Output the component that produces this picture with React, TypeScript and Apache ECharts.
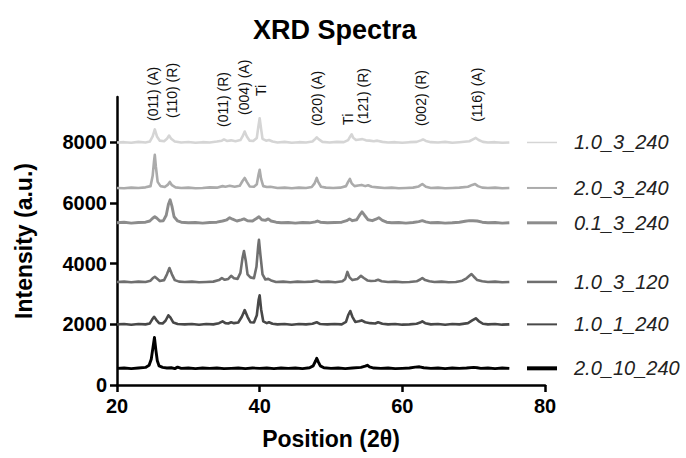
import React, { useEffect, useRef } from "react";
import * as echarts from "echarts";

const seriesNames = ["1.0_3_240", "2.0_3_240", "0.1_3_240", "1.0_3_120", "1.0_1_240", "2.0_10_240"];
const offsets = [8000, 6500, 5350, 3400, 2000, 550];
const colors = ["#d5d5d5", "#ababab", "#8c8c8c", "#6f6f6f", "#484848", "#000000"];
const lineWidths = [2.6, 2.6, 2.9, 2.6, 2.6, 2.9];
const legendWidths = [1.5, 2, 3, 2.5, 2, 4];

const xTicks = [20, 40, 60, 80];
const yTicks = [0, 2000, 4000, 6000, 8000];

// relative intensities above each trace's offset, [2θ, counts]
const traceA: number[][] = [[20,0],[21,10],[22,-10],[23,20],[24,0],[24.6,30],[25.0,200],[25.3,430],[25.6,200],[26.0,60],[26.6,40],[27.0,120],[27.3,230],[27.6,120],[28.1,30],[29,0],[30,15],[31,-10],[32,10],[33,0],[34,30],[34.7,60],[35.0,100],[35.4,50],[36.0,70],[36.6,40],[37.3,80],[37.6,200],[37.9,360],[38.2,200],[38.6,60],[39.1,50],[39.6,150],[39.8,500],[40.0,800],[40.2,450],[40.4,120],[40.9,60],[41.3,80],[41.8,30],[42.5,0],[43.5,20],[44.5,-10],[45.5,10],[46.5,0],[47.4,30],[47.8,120],[48.0,170],[48.3,100],[48.8,20],[49.8,0],[50.8,20],[51.8,10],[52.4,80],[52.7,200],[52.9,270],[53.1,160],[53.5,80],[54.0,100],[54.4,110],[54.9,70],[55.4,60],[56.0,40],[56.5,60],[57.2,20],[58,0],[59,10],[60,-10],[61,10],[62,20],[62.6,70],[62.9,100],[63.3,50],[64,10],[65,0],[66,20],[67,-10],[68,10],[69.4,40],[69.9,100],[70.3,150],[70.7,80],[71.3,20],[72,0],[73,10],[74,-10],[75,0]];
const traceB: number[][] = [[20,0],[21,-10],[22,10],[23,0],[24,20],[24.7,60],[25.0,400],[25.2,900],[25.3,1090],[25.45,700],[25.7,200],[26.1,60],[26.7,30],[27.1,100],[27.4,200],[27.7,90],[28.2,20],[29,0],[30,10],[31,-10],[32,0],[33,20],[34,10],[34.8,60],[35.2,40],[35.8,70],[36.5,40],[37.2,70],[37.6,230],[37.9,330],[38.2,200],[38.6,50],[39.2,40],[39.6,120],[39.85,450],[40.0,600],[40.2,300],[40.5,60],[41.0,30],[41.5,40],[42.5,0],[43.5,10],[44.5,-10],[45.5,10],[46.5,0],[47.3,30],[47.7,150],[48.0,330],[48.2,200],[48.6,40],[49.3,10],[50.3,0],[51.3,10],[52.1,60],[52.4,200],[52.65,300],[52.9,150],[53.3,60],[53.8,80],[54.3,100],[54.8,60],[55.2,90],[55.7,40],[56.5,20],[57.5,0],[58.5,10],[59.5,-10],[60.5,0],[61.5,10],[62.3,50],[62.8,130],[63.3,40],[64,0],[65,10],[66,-10],[67,0],[68,10],[69.2,40],[69.8,100],[70.2,130],[70.6,60],[71.2,10],[72,0],[73,10],[74,-10],[75,0]];
const traceC: number[][] = [[20,0],[21,20],[22,-10],[23,10],[24,20],[24.6,60],[25.0,150],[25.3,200],[25.6,150],[26.0,60],[26.5,70],[26.9,250],[27.2,600],[27.45,760],[27.7,550],[28.0,200],[28.5,60],[29,20],[30,0],[31,10],[32,-10],[33,10],[34,20],[34.8,60],[35.4,100],[35.8,170],[36.2,120],[36.8,60],[37.4,100],[37.8,130],[38.3,70],[39.0,60],[39.6,150],[39.9,200],[40.3,100],[40.8,80],[41.2,130],[41.6,60],[42.3,20],[43,0],[44,10],[45,-10],[46,10],[47,0],[47.8,30],[48.1,60],[48.5,20],[49.5,0],[50.5,10],[51.5,20],[52.2,70],[52.6,130],[53.0,70],[53.6,100],[54.0,250],[54.35,360],[54.7,250],[55.2,100],[55.8,70],[56.3,120],[56.7,170],[57.2,80],[57.8,20],[58.5,0],[59.5,10],[60.5,-10],[61.5,10],[62.3,40],[62.8,70],[63.3,30],[64,0],[65,10],[66,-10],[67,0],[68,20],[68.8,50],[69.4,70],[69.9,70],[70.5,60],[71.2,20],[72,0],[73,10],[74,-10],[75,0]];
const traceD: number[][] = [[20,0],[21,10],[22,-10],[23,10],[24,0],[24.7,40],[25.0,120],[25.3,170],[25.6,110],[26.0,30],[26.6,60],[27.0,250],[27.35,460],[27.7,250],[28.1,60],[28.7,10],[29.5,0],[30.5,10],[31.5,-10],[32.5,0],[33.5,10],[34.3,60],[34.7,130],[35.1,70],[35.6,100],[36.0,200],[36.4,120],[36.9,100],[37.3,300],[37.6,800],[37.8,1020],[38.05,700],[38.3,250],[38.7,150],[39.2,120],[39.55,500],[39.8,1200],[39.9,1390],[40.1,900],[40.4,250],[40.8,80],[41.2,100],[41.6,50],[42.3,0],[43.3,10],[44.3,-10],[45.3,10],[46.3,0],[47.3,10],[48.0,40],[48.6,0],[49.6,10],[50.6,-10],[51.6,20],[52.0,100],[52.3,330],[52.6,150],[53.0,60],[53.7,100],[54.2,200],[54.6,130],[55.1,50],[55.6,30],[56.2,40],[56.6,70],[57.1,20],[58,0],[59,10],[60,-10],[61,0],[62,20],[62.5,80],[62.8,130],[63.2,60],[63.8,20],[64.5,0],[65.5,10],[66.5,-10],[67.5,0],[68.4,40],[69.0,120],[69.4,200],[69.7,260],[70.0,180],[70.5,60],[71.2,20],[72,0],[73,10],[74,-10],[75,0]];
const traceE: number[][] = [[20,0],[21,10],[22,-10],[23,10],[24,0],[24.6,30],[24.9,150],[25.2,250],[25.5,150],[25.9,40],[26.4,30],[26.8,120],[27.2,300],[27.5,220],[27.9,60],[28.5,10],[29.5,0],[30.5,10],[31.5,-10],[32.5,10],[33.5,0],[34.3,40],[34.8,100],[35.2,40],[35.6,30],[36.0,70],[36.4,40],[37.0,60],[37.5,250],[37.9,470],[38.3,250],[38.7,70],[39.2,60],[39.6,300],[39.85,800],[40.0,960],[40.2,500],[40.5,100],[41.0,40],[41.3,70],[41.8,20],[42.5,0],[43.5,10],[44.5,-10],[45.5,10],[46.5,0],[47.4,20],[48.0,70],[48.5,10],[49.5,0],[50.5,10],[51.5,0],[52.1,80],[52.4,300],[52.7,440],[53.0,250],[53.4,80],[53.9,100],[54.3,130],[54.8,70],[55.5,40],[56.2,30],[56.6,70],[57.2,20],[58,0],[59,10],[60,-10],[61,0],[62,20],[62.5,60],[62.8,100],[63.2,40],[64,0],[65,10],[66,-10],[67,10],[68,0],[69.2,40],[69.8,130],[70.3,200],[70.7,110],[71.3,20],[72,0],[73,10],[74,-10],[75,0]];
const traceF: number[][] = [[20,0],[21,10],[22,-10],[23,10],[24.0,30],[24.5,100],[24.8,300],[25.05,700],[25.25,1020],[25.45,600],[25.65,250],[25.9,80],[26.4,30],[27.0,10],[27.6,20],[28.1,-10],[28.5,40],[29,0],[30,10],[31,-10],[32,10],[33,0],[34,10],[35,-10],[36,0],[37,10],[38,-10],[39,10],[40,0],[41,10],[42,-10],[43,10],[44,0],[45,10],[46,-10],[47.0,20],[47.5,80],[47.85,250],[48.0,330],[48.2,220],[48.5,80],[49.0,20],[50,0],[51,10],[52,-10],[53,10],[54.2,30],[54.8,70],[55.1,100],[55.4,50],[56,10],[57,0],[58,10],[59,-10],[60,0],[61,10],[61.8,40],[62.4,50],[63,20],[64,0],[65,10],[66,-10],[67,10],[68,0],[69,10],[70,30],[70.5,20],[71,0],[72,10],[73,-10],[74,10],[75,0]];
const traces = [traceA, traceB, traceC, traceD, traceE, traceF];

const annotationLabels = ["(011) (A)", "(110) (R)", "(011) (R)", "(004) (A)", "Ti", "(020) (A)", "Ti", "(121) (R)", "(002) (R)", "(116) (A)"];
const annotationX = [25.0, 27.65, 34.8, 37.75, 40.25, 47.97, 52.35, 54.5, 62.67, 70.4];
const annotationY = [8710, 8810, 8510, 8910, 9530, 8540, 8580, 8610, 8540, 8680];

const FONT = "'Liberation Sans', Arial, Helvetica, sans-serif";

export default function App() {
  const ref = useRef<HTMLDivElement>(null);
  useEffect(() => {
    document.body.style.margin = "0";
    const chart = echarts.init(ref.current!, null, { renderer: "svg" });
    const option: any = {
      animation: false,
      backgroundColor: "#ffffff",
      title: {
        text: "XRD Spectra",
        left: 248,
        top: 11,
        textStyle: { fontFamily: FONT, fontSize: 27, fontWeight: "bold", color: "#000" },
      },
      grid: { left: 117, right: 141, top: 97, bottom: 73, containLabel: false },
      xAxis: {
        type: "value",
        min: 20,
        max: 80,
        interval: 20,
        name: "Position (2θ)",
        nameLocation: "middle",
        nameGap: 42,
        nameTextStyle: { fontFamily: FONT, fontSize: 23, fontWeight: "bold", color: "#000" },
        splitLine: { show: false },
        axisLine: { show: true, lineStyle: { color: "#000", width: 2.5 } },
        axisTick: { show: true, length: 7, lineStyle: { color: "#000", width: 2.5 }, customValues: xTicks },
        axisLabel: { fontFamily: FONT, fontSize: 20, fontWeight: "bold", color: "#000", margin: 11, customValues: xTicks },
      },
      yAxis: {
        type: "value",
        min: 0,
        max: 9500,
        interval: 2000,
        name: "Intensity (a.u.)",
        nameLocation: "middle",
        nameGap: 82,
        nameTextStyle: { fontFamily: FONT, fontSize: 23, fontWeight: "bold", color: "#000" },
        splitLine: { show: false },
        axisLine: { show: true, lineStyle: { color: "#000", width: 2.5 } },
        axisTick: { show: true, length: 7, lineStyle: { color: "#000", width: 2.5 }, customValues: yTicks },
        axisLabel: {
          fontFamily: FONT, fontSize: 20, fontWeight: "bold", color: "#000", margin: 10, customValues: yTicks,
          formatter: (v: number) => (v % 2000 === 0 ? String(v) : ""),
        },
      },
      series: traces.map((tr, i) => ({
        type: "line",
        name: seriesNames[i],
        data: tr.map((p) => [p[0], p[1] + offsets[i]]),
        showSymbol: false,
        symbol: "none",
        lineStyle: { color: colors[i], width: lineWidths[i], join: "round" },
        itemStyle: { color: colors[i] },
        z: 2 + i,
      })),
    };
    chart.setOption(option);

    const xEnd = chart.convertToPixel({ xAxisIndex: 0 }, 80) as number;
    const graphics: any[] = [];
    seriesNames.forEach((n, i) => {
      const y = chart.convertToPixel({ yAxisIndex: 0 }, offsets[i]) as number;
      graphics.push({
        type: "line",
        shape: { x1: xEnd - 18, y1: y, x2: xEnd + 12, y2: y },
        style: { stroke: colors[i], lineWidth: legendWidths[i] },
      });
      graphics.push({
        type: "text",
        x: xEnd + 29,
        y: y,
        style: {
          text: n, fontFamily: FONT, fontSize: 20, fontStyle: "italic", fill: "#222",
          align: "left", verticalAlign: "middle",
        },
      });
    });
    annotationLabels.forEach((t, i) => {
      const p = chart.convertToPixel({ gridIndex: 0 }, [annotationX[i], annotationY[i]]) as number[];
      graphics.push({
        type: "text",
        x: p[0],
        y: p[1],
        rotation: Math.PI / 2,
        style: {
          text: t, fontFamily: FONT, fontSize: 14, fill: "#111",
          align: "left", verticalAlign: "middle",
        },
      });
    });
    chart.setOption({ graphic: graphics });
    return () => chart.dispose();
  }, []);
  return <div ref={ref} style={{ width: 686, height: 458 }} />;
}
